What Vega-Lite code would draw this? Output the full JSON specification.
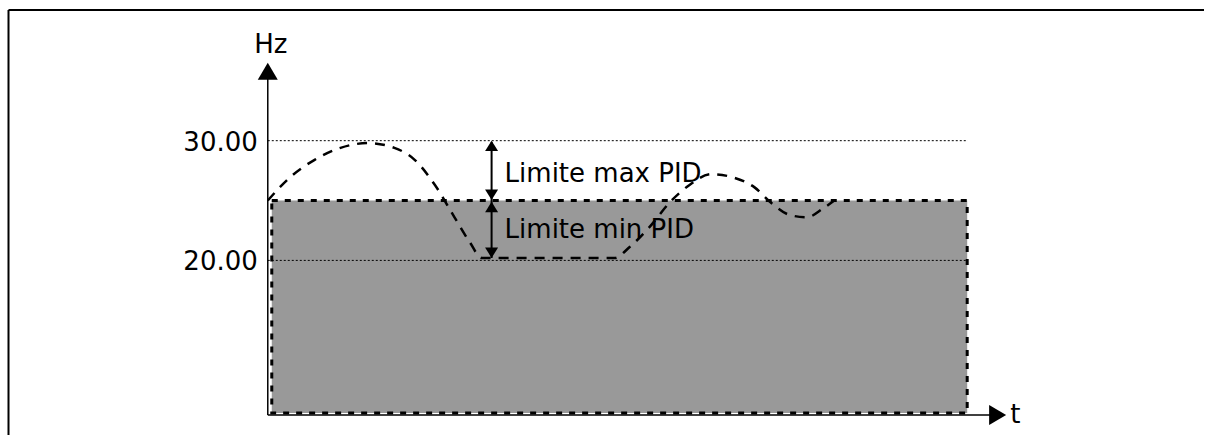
{
  "$schema": "https://vega.github.io/schema/vega-lite/v6.json",
  "width": 1205,
  "height": 436,
  "autosize": {"type": "fit", "contains": "padding"},
  "padding": 0,
  "background": "white",
  "config": {"view": {"stroke": null}, "font": "DejaVu Sans"},
  "encoding": {
    "x": {"field": "t", "type": "quantitative", "scale": {"domain": [-38.2857, 133.857], "nice": false, "zero": false}, "axis": null},
    "y": {"field": "hz", "type": "quantitative", "scale": {"domain": [5.4167, 41.75], "nice": false, "zero": false}, "axis": null}
  },
  "layer": [
    {
      "data": {"values": [
        {"t": -37.07, "t2": 133.857, "hz": 40.917, "hz2": 40.917},
        {"t": -37.07, "t2": -37.07, "hz": 40.917, "hz2": 5.4167}
      ]},
      "mark": {"type": "rule", "color": "black", "strokeWidth": 2},
      "encoding": {"x2": {"field": "t2"}, "y2": {"field": "hz2"}}
    },
    {
      "data": {"values": [{"t": 0.571, "t2": 100, "hz": 7.25, "hz2": 25}]},
      "mark": {"type": "rect", "fill": "#999999", "stroke": "black", "strokeWidth": 3, "strokeDash": [6, 7]},
      "encoding": {"x2": {"field": "t2"}, "y2": {"field": "hz2"}}
    },
    {
      "data": {"values": [
        {"t": 0, "t2": 100, "hz": 30},
        {"t": 0, "t2": 100, "hz": 20}
      ]},
      "mark": {"type": "rule", "color": "black", "strokeWidth": 1, "strokeDash": [2, 2]},
      "encoding": {"x2": {"field": "t2"}}
    },
    {
      "data": {"values": [
        {"t": 0, "t2": 0, "hz": 7.083, "hz2": 35.5},
        {"t": 0, "t2": 104.0, "hz": 7.083, "hz2": 7.083}
      ]},
      "mark": {"type": "rule", "color": "black", "strokeWidth": 1.5},
      "encoding": {"x2": {"field": "t2"}, "y2": {"field": "hz2"}}
    },
    {
      "data": {"values": [{"t": 0, "hz": 36.5}]},
      "mark": {"type": "point", "shape": "M0,0L-1,1.7L1,1.7Z", "size": 400, "filled": true, "color": "black", "opacity": 1}
    },
    {
      "data": {"values": [{"t": 105.57, "hz": 7.083}]},
      "mark": {"type": "point", "shape": "M0,0L-1.7,-1L-1.7,1Z", "size": 400, "filled": true, "color": "black", "opacity": 1}
    },
    {
      "data": {"values": [
        {"t": 0, "hz": 25.0}, {"t": 3.1, "hz": 26.9}, {"t": 6.7, "hz": 28.4}, {"t": 10.4, "hz": 29.4},
        {"t": 14.3, "hz": 29.8}, {"t": 18.1, "hz": 29.4}, {"t": 21.0, "hz": 28.4}, {"t": 23.9, "hz": 26.3},
        {"t": 26.7, "hz": 23.6}, {"t": 28.9, "hz": 21.5}, {"t": 30.6, "hz": 20.2}, {"t": 49.6, "hz": 20.2},
        {"t": 51.7, "hz": 21.1}, {"t": 54.6, "hz": 22.8}, {"t": 57.4, "hz": 24.8}, {"t": 60.3, "hz": 26.3},
        {"t": 63.4, "hz": 27.2}, {"t": 66.7, "hz": 26.9}, {"t": 69.6, "hz": 26.1}, {"t": 72.0, "hz": 24.8},
        {"t": 74.6, "hz": 23.8}, {"t": 77.1, "hz": 23.6}, {"t": 79.3, "hz": 24.3}, {"t": 81.0, "hz": 25.0}
      ]},
      "mark": {"type": "line", "color": "black", "strokeWidth": 2.5, "strokeDash": [10, 8], "interpolate": "monotone"}
    },
    {
      "data": {"values": [{"t": 32, "hz": 29.9, "hz2": 20.2}]},
      "mark": {"type": "rule", "color": "black", "strokeWidth": 2},
      "encoding": {"y2": {"field": "hz2"}}
    },
    {
      "data": {"values": [{"t": 32, "hz": 30}, {"t": 32, "hz": 24.9}]},
      "mark": {"type": "point", "shape": "M0,0L-1,1.6L1,1.6Z", "size": 169, "filled": true, "color": "black", "opacity": 1}
    },
    {
      "data": {"values": [{"t": 32, "hz": 25.05}, {"t": 32, "hz": 20.2}]},
      "mark": {"type": "point", "shape": "M0,0L-1,-1.6L1,-1.6Z", "size": 169, "filled": true, "color": "black", "opacity": 1}
    },
    {
      "data": {"values": [{"t": -1.43, "hz": 30, "label": "30.00"}, {"t": -1.43, "hz": 20, "label": "20.00"}]},
      "mark": {"type": "text", "align": "right", "baseline": "middle", "dy": 2, "fontSize": 26, "color": "black"},
      "encoding": {"text": {"field": "label"}}
    },
    {
      "data": {"values": [
        {"t": 33.86, "hz": 27.2, "label": "Limite max PID"},
        {"t": 33.86, "hz": 22.5, "label": "Limite min PID"},
        {"t": 106.14, "hz": 7.083, "label": "t"}
      ]},
      "mark": {"type": "text", "align": "left", "baseline": "middle", "fontSize": 26, "color": "black"},
      "encoding": {"text": {"field": "label"}}
    },
    {
      "data": {"values": [{"t": 0.43, "hz": 37.33, "label": "Hz"}]},
      "mark": {"type": "text", "align": "center", "baseline": "alphabetic", "fontSize": 26, "color": "black"},
      "encoding": {"text": {"field": "label"}}
    }
  ]
}
